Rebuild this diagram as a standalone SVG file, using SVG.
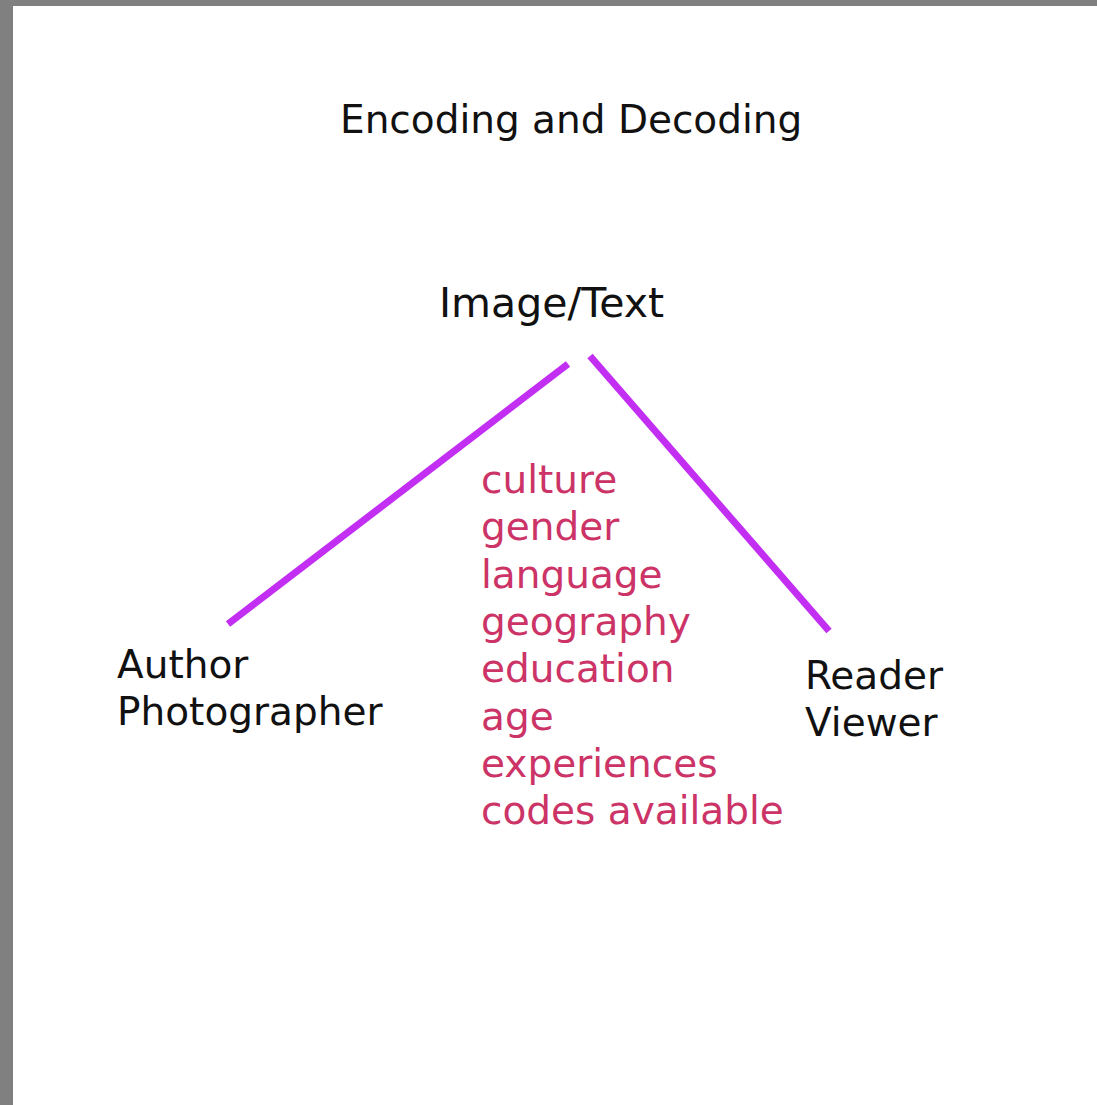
<svg xmlns="http://www.w3.org/2000/svg" width="1097" height="1105" viewBox="0 0 1097 1105">
<style>
.t{font-family:"DejaVu Sans",Verdana,sans-serif;font-size:39px;fill:#111}
.r{font-family:"DejaVu Sans",Verdana,sans-serif;font-size:39px;fill:#cc3366}
.c{stroke:#c22ef2;stroke-width:7;stroke-linecap:butt;fill:none}
</style>
<rect x="0" y="0" width="1097" height="1105" fill="#808080"/>
<rect x="13" y="6" width="1084" height="1099" fill="#ffffff"/>
<g id="title"><text class="t" x="340" y="133">Encoding and Decoding</text></g>
<g id="image-text"><text class="t" x="439" y="317" style="font-size:41px">Image/Text</text></g>
<g id="author"><text class="t" x="117" y="678">Author</text><text class="t" x="117" y="725">Photographer</text></g>
<g id="reader"><text class="t" x="805" y="689">Reader</text><text class="t" x="805" y="736">Viewer</text></g>
<g id="factors">
<text class="r" x="481" y="493">culture</text>
<text class="r" x="481" y="540">gender</text>
<text class="r" x="481" y="588">language</text>
<text class="r" x="481" y="635">geography</text>
<text class="r" x="481" y="682">education</text>
<text class="r" x="481" y="730">age</text>
<text class="r" x="481" y="777">experiences</text>
<text class="r" x="481" y="824">codes available</text>
</g>
<g id="connectors">
<line class="c" x1="228" y1="624" x2="568" y2="364"/>
<line class="c" x1="590" y1="356" x2="829" y2="631"/>
</g>
</svg>
